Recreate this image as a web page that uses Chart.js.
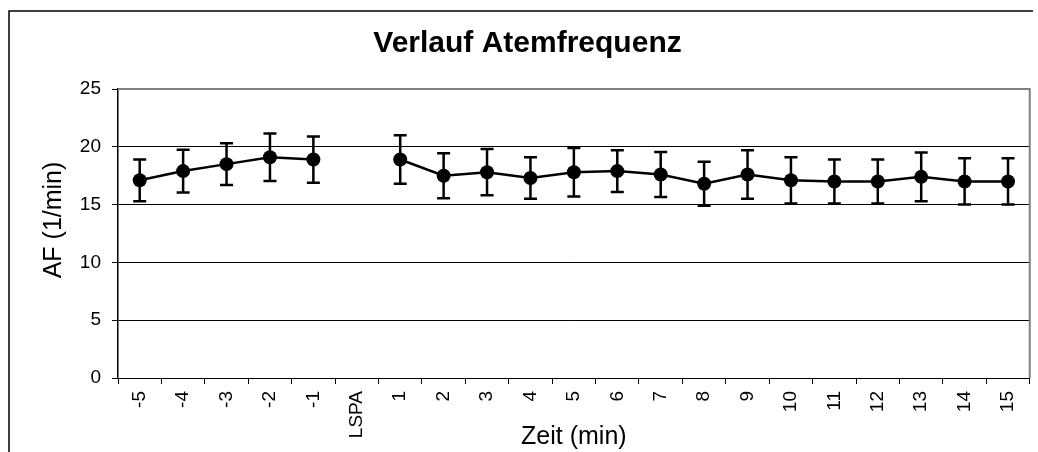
<!DOCTYPE html>
<html>
<head>
<meta charset="utf-8">
<script src="https://cdn.jsdelivr.net/npm/chart.js@4"></script>
<style>
  body { margin: 0; background: #fff; }
  #wrap { width: 1038px; height: 452px; position: relative; }
</style>
</head>
<body>
<div id="wrap"><canvas id="afChart"></canvas></div>
<script>
const categories = ["-5", "-4", "-3", "-2", "-1", "LSPA", "1", "2", "3", "4", "5",
  "6", "7", "8", "9", "10", "11", "12", "13", "14", "15"];
// Mittelwerte Atemfrequenz (1/min)
const afMean = [17.1, 17.9, 18.5, 19.1, 18.9, null, 18.9, 17.5, 17.8, 17.3, 17.8,
  17.9, 17.6, 16.8, 17.6, 17.1, 17.0, 17.0, 17.4, 17.0, 17.0];
// Standardabweichung
const afSd = [1.8, 1.85, 1.8, 2.05, 2.0, null, 2.1, 1.95, 2.0, 1.8, 2.1,
  1.8, 1.95, 1.9, 2.1, 2.0, 1.9, 1.9, 2.1, 2.0, 2.0];
const yMin = 0, yMax = 25, yStep = 5;

Chart.defaults.font.family = "'Liberation Sans', Arial, sans-serif";
Chart.defaults.color = "#000";

// Fehlerbalken unter die Punkte zeichnen
const errorBars = {
  id: "errorBars",
  beforeDatasetsDraw(chart) {
    const { ctx, scales: { x, y } } = chart;
    ctx.save();
    ctx.strokeStyle = "#000";
    ctx.lineWidth = 2.5;
    afMean.forEach((m, i) => {
      if (m === null) return;
      const px = x.getPixelForValue(i);
      const top = y.getPixelForValue(m + afSd[i]);
      const bot = y.getPixelForValue(m - afSd[i]);
      ctx.beginPath();
      ctx.moveTo(px, top); ctx.lineTo(px, bot);
      ctx.moveTo(px - 6.5, top); ctx.lineTo(px + 6.5, top);
      ctx.moveTo(px - 6.5, bot); ctx.lineTo(px + 6.5, bot);
      ctx.stroke();
    });
    ctx.restore();
  }
};

// Rahmen: Diagrammfläche (grau), äußerer Rahmen, y-Achsentitel
const frames = {
  id: "frames",
  afterDraw(chart) {
    const { ctx, chartArea: a } = chart;
    ctx.save();
    ctx.strokeStyle = "#808080";
    ctx.lineWidth = 2;
    ctx.beginPath();
    ctx.moveTo(a.left, a.top); ctx.lineTo(a.right, a.top); ctx.lineTo(a.right, a.bottom);
    ctx.stroke();
    ctx.strokeStyle = "#000";
    ctx.lineWidth = 1.5;
    ctx.beginPath();
    ctx.moveTo(9, 452); ctx.lineTo(9, 11); ctx.lineTo(1033, 11);
    ctx.stroke();
    // y-Titel etwas oberhalb der Mitte wie im Original
    ctx.translate(54, 220);
    ctx.rotate(-Math.PI / 2);
    ctx.fillStyle = "#000";
    ctx.font = "25px 'Liberation Sans', Arial, sans-serif";
    ctx.textAlign = "center";
    ctx.textBaseline = "middle";
    ctx.fillText("AF (1/min)", 0, 0);
    ctx.restore();
  }
};

new Chart(document.getElementById("afChart"), {
  type: "line",
  data: {
    labels: categories,
    datasets: [{
      label: "AF",
      data: afMean,
      borderColor: "#000",
      backgroundColor: "#000",
      borderWidth: 2.5,
      pointRadius: 7,
      pointBackgroundColor: "#000",
      pointBorderWidth: 0,
      tension: 0,
      spanGaps: false,
    }],
  },
  options: {
    responsive: true,
    maintainAspectRatio: false,
    animation: false,
    layout: { padding: { left: 24, right: 7, top: 0, bottom: 0 } },
    plugins: {
      legend: { display: false },
      tooltip: { enabled: false },
      title: {
        display: true,
        text: "Verlauf Atemfrequenz",
        font: { size: 30, weight: "bold" },
        padding: { top: 26, bottom: 27 },
      },
    },
    scales: {
      x: {
        offset: true,
        grid: { offset: true, drawOnChartArea: false, tickLength: 6, color: "#000", tickColor: "#000" },
        border: { color: "#000", width: 1 },
        ticks: { font: { size: 19 }, minRotation: 90, maxRotation: 90, autoSkip: false, padding: 7 },
        title: { display: true, text: "Zeit (min)", font: { size: 25 }, padding: { top: 0, bottom: 0 } },
        afterFit(scale) { scale.height = 74; },
      },
      y: {
        min: yMin,
        max: yMax,
        ticks: { stepSize: yStep, font: { size: 19 }, padding: 11 },
        grid: {
          color: (c) => (c.tick && c.tick.value === yMax ? "#808080" : "#000"),
          tickColor: "#000",
          tickLength: 6,
          lineWidth: 1,
        },
        border: { color: "#000", width: 1.5 },
        afterFit(scale) { scale.width = 94; },
      },
    },
  },
  plugins: [errorBars, frames],
});
</script>
</body>
</html>
